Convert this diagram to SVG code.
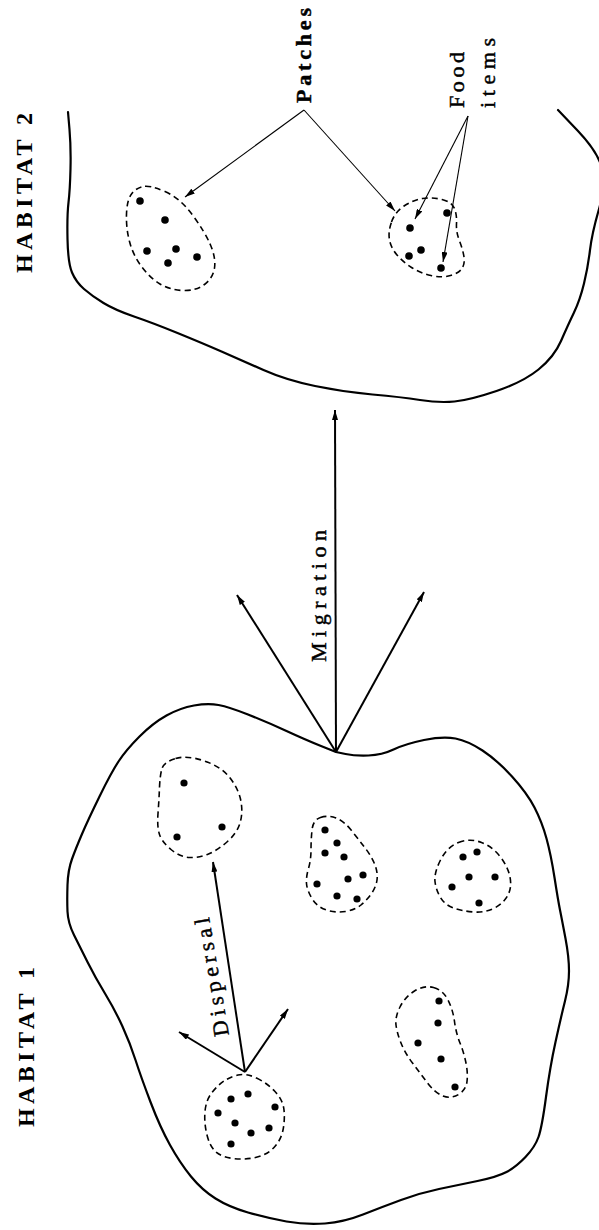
<svg xmlns="http://www.w3.org/2000/svg" width="599" height="1230" viewBox="0 0 599 1230">
<style>
.bound{fill:none;stroke:#000;stroke-width:2.2;stroke-linejoin:round;stroke-linecap:round}
.patch{fill:none;stroke:#000;stroke-width:1.6;stroke-dasharray:6 4}
.dot{fill:#000}
.thin{fill:none;stroke:#000;stroke-width:1.1}
.thick{fill:none;stroke:#000;stroke-width:2}
.lbl{font-family:"Liberation Serif","DejaVu Serif",serif;font-size:22px;fill:#000;stroke:#000;stroke-width:0.45}
.hab{font-family:"Liberation Serif","DejaVu Serif",serif;font-size:24px;font-weight:bold;fill:#000}
</style>
<defs>
<marker id="ah" viewBox="0 0 10 6" refX="10" refY="3" markerWidth="10" markerHeight="6" markerUnits="userSpaceOnUse" orient="auto">
<path d="M0,0 L10,3 L0,6 z" fill="#000"/>
</marker>
</defs>
<rect width="599" height="1230" fill="#fff"/>

<g id="habitat2">
<path class="bound" d="M68,112 L69.5,129.5 Q71,147 70.5,168.5 Q70,190 68.5,202.5 Q67,215 67.5,239 Q68,263 72,272.5 Q76,282 84,289 Q92,296 103.5,303 Q115,310 134,316.5 Q153,323 177.5,333 Q202,343 221.5,351.5 Q241,360 263.5,370 Q286,380 315,386 Q344,392 372.5,394.5 Q401,397 420,400 Q439,403 454.5,401.5 Q470,400 496.5,391 Q523,382 538.5,369.5 Q554,357 561,341 Q568,325 574,312.5 Q580,300 584,283.5 Q588,267 590,250 Q592,233 599,209 Q606,185 602,168.5 Q598,152 578,131 L558,110"/>
<text class="hab" transform="translate(32,273) rotate(-90)" textLength="160" lengthAdjust="spacing">HABITAT 2</text>
</g>

<g id="habitat1">
<path class="bound" d="M336,752 L345.5,754 Q355,756 368.5,755.5 Q382,755 393.5,749.5 Q405,744 424,740 Q443,736 455.5,738.5 Q468,741 482.5,750.5 Q497,760 512,776.5 Q527,793 534.5,807.5 Q542,822 546.5,838.5 Q551,855 554.5,877.5 Q558,900 560,910 Q562,920 565.5,938.5 Q569,957 569,971 Q569,985 565,1001 Q561,1017 555.5,1042 Q550,1067 546,1097 Q542,1127 538.5,1137 Q535,1147 525.5,1157 Q516,1167 506.5,1172 Q497,1177 477.5,1181 Q458,1185 439,1189 Q420,1193 401,1200 Q382,1207 363,1214.5 Q344,1222 325,1223.5 Q306,1225 286.5,1221.5 Q267,1218 248,1212.5 Q229,1207 215.5,1198.5 Q202,1190 191,1176.5 Q180,1163 170,1145 Q160,1127 150.5,1102 Q141,1077 135.5,1060 Q130,1043 122.5,1026.5 Q115,1010 105,993.5 Q95,977 87.5,962 Q80,947 74,935 Q68,923 67.5,911.5 Q67,900 67.5,885 Q68,870 72,859 Q76,848 82,834 Q88,820 99.5,796.5 Q111,773 118.5,761.5 Q126,750 139.5,736.5 Q153,723 166.5,715.5 Q180,708 194,705.5 Q208,703 218.5,705 Q229,707 248,714.5 Q267,722 286.5,731 Q306,740 321,746 Z"/>
<text class="hab" transform="translate(34,1127) rotate(-90)" textLength="160" lengthAdjust="spacing">HABITAT 1</text>
</g>

<g id="h2-patch-left">
<path class="patch" d="M165,191.5 Q180,198 192.5,215 Q205,232 210.5,245 Q216,258 214.5,268 Q213,278 204.5,284.5 Q196,291 183,290.5 Q170,290 160,284 Q150,278 141.5,266.5 Q133,255 129.5,241.5 Q126,228 126.5,214 Q127,200 131.5,194 Q136,188 143,186.5 Q150,185 165,191.5 Z"/>
<circle class="dot" cx="140" cy="201" r="3.8"/>
<circle class="dot" cx="165" cy="220" r="3.8"/>
<circle class="dot" cx="147" cy="251" r="3.8"/>
<circle class="dot" cx="176" cy="249" r="3.8"/>
<circle class="dot" cx="197" cy="257" r="3.8"/>
<circle class="dot" cx="168" cy="263" r="3.8"/>
</g>

<g id="h2-patch-right">
<path class="patch" d="M391.5,222 Q395,212 404,206 Q413,200 422.5,198.5 Q432,197 442,199.5 Q452,202 454.5,208.5 Q457,215 456.5,223.5 Q456,232 459.5,241 Q463,250 464,257 Q465,264 462,268.5 Q459,273 450.5,275.5 Q442,278 431,275.5 Q420,273 411.5,267.5 Q403,262 397,255 Q391,248 389.5,240 Q388,232 391.5,222 Z"/>
<circle class="dot" cx="410" cy="228" r="3.8"/>
<circle class="dot" cx="447" cy="213" r="3.8"/>
<circle class="dot" cx="409" cy="256" r="3.8"/>
<circle class="dot" cx="421" cy="250" r="3.8"/>
<circle class="dot" cx="441" cy="268" r="3.8"/>
</g>

<g id="h1-patch-upper-left">
<path class="patch" d="M175.5,758.5 Q187,755 204.5,761 Q222,767 230.5,778.5 Q239,790 241,801.5 Q243,813 240,823 Q237,833 227.5,841.5 Q218,850 208.5,854 Q199,858 189.5,857.5 Q180,857 171,849.5 Q162,842 159.5,834.5 Q157,827 158,813.5 Q159,800 159.5,787.5 Q160,775 162,768.5 Q164,762 175.5,758.5 Z"/>
<circle class="dot" cx="184" cy="783" r="3.6"/>
<circle class="dot" cx="177" cy="837" r="3.6"/>
<circle class="dot" cx="222" cy="827" r="3.6"/>
</g>

<g id="h1-patch-middle">
<path class="patch" d="M320.5,817.5 Q328,815 336,818 Q344,821 351.5,830.5 Q359,840 365.5,848.5 Q372,857 375,865 Q378,873 377,880 Q376,887 371.5,893.5 Q367,900 361,905 Q355,910 345.5,911.5 Q336,913 326.5,910 Q317,907 312,898.5 Q307,890 306.5,883.5 Q306,877 308.5,868.5 Q311,860 311,850 Q311,840 312,830 Q313,820 320.5,817.5 Z"/>
<circle class="dot" cx="325" cy="830" r="3.6"/>
<circle class="dot" cx="337" cy="843" r="3.6"/>
<circle class="dot" cx="325" cy="853" r="3.6"/>
<circle class="dot" cx="344" cy="857" r="3.6"/>
<circle class="dot" cx="363" cy="875" r="3.6"/>
<circle class="dot" cx="348" cy="879" r="3.6"/>
<circle class="dot" cx="317" cy="884" r="3.6"/>
<circle class="dot" cx="337" cy="896" r="3.6"/>
<circle class="dot" cx="357" cy="899" r="3.6"/>
</g>

<g id="h1-patch-right">
<path class="patch" d="M458.5,842.5 Q470,838 481.5,842.5 Q493,847 500.5,857 Q508,867 510,877 Q512,887 508,895 Q504,903 494.5,908 Q485,913 473.5,912 Q462,911 453.5,908 Q445,905 440.5,897.5 Q436,890 435,881.5 Q434,873 440.5,860 Q447,847 458.5,842.5 Z"/>
<circle class="dot" cx="463" cy="857" r="3.6"/>
<circle class="dot" cx="477" cy="852" r="3.6"/>
<circle class="dot" cx="469" cy="877" r="3.6"/>
<circle class="dot" cx="495" cy="877" r="3.6"/>
<circle class="dot" cx="452" cy="887" r="3.6"/>
<circle class="dot" cx="479" cy="903" r="3.6"/>
</g>

<g id="h1-patch-lower-left">
<path class="patch" d="M256.5,1078 Q267,1083 275,1091.5 Q283,1100 284,1110 Q285,1120 283,1130 Q281,1140 274,1147.5 Q267,1155 255.5,1157.5 Q244,1160 233,1158.5 Q222,1157 216,1152 Q210,1147 207,1135 Q204,1123 205,1111.5 Q206,1100 212,1092.5 Q218,1085 224,1081 Q230,1077 238,1075 Q246,1073 256.5,1078 Z"/>
<circle class="dot" cx="231" cy="1099" r="3.6"/>
<circle class="dot" cx="248" cy="1094" r="3.6"/>
<circle class="dot" cx="275" cy="1107" r="3.6"/>
<circle class="dot" cx="218" cy="1113" r="3.6"/>
<circle class="dot" cx="235" cy="1123" r="3.6"/>
<circle class="dot" cx="269" cy="1128" r="3.6"/>
<circle class="dot" cx="251" cy="1133" r="3.6"/>
<circle class="dot" cx="231" cy="1144" r="3.6"/>
</g>

<g id="h1-patch-lower-right">
<path class="patch" d="M433.5,987.5 Q443,990 448,1000 Q453,1010 454.5,1021.5 Q456,1033 460,1043 Q464,1053 466,1063 Q468,1073 467,1081.5 Q466,1090 458.5,1094.5 Q451,1099 443,1096 Q435,1093 427.5,1083 Q420,1073 412.5,1063 Q405,1053 401,1043 Q397,1033 396,1025 Q395,1017 400,1007 Q405,997 414.5,991 Q424,985 433.5,987.5 Z"/>
<circle class="dot" cx="439" cy="1001" r="3.6"/>
<circle class="dot" cx="438" cy="1023" r="3.6"/>
<circle class="dot" cx="418" cy="1043" r="3.6"/>
<circle class="dot" cx="441" cy="1059" r="3.6"/>
<circle class="dot" cx="455" cy="1087" r="3.6"/>
</g>

<g id="labels">
<text class="lbl" font-weight="bold" transform="translate(311,103) rotate(-90)" textLength="95" lengthAdjust="spacing">Patches</text>
<text class="lbl" transform="translate(464,108) rotate(-90)" textLength="56" lengthAdjust="spacing">Food</text>
<text class="lbl" transform="translate(495,108) rotate(-90)" textLength="70" lengthAdjust="spacing">items</text>
<text class="lbl" transform="translate(326,662) rotate(-90)" textLength="132" lengthAdjust="spacing">Migration</text>
<text class="lbl" transform="translate(229,1035) rotate(-99.6)" textLength="120" lengthAdjust="spacing">Dispersal</text>
</g>

<g id="connectors">
<line class="thin" x1="304" y1="110" x2="185" y2="197" marker-end="url(#ah)"/>
<line class="thin" x1="304" y1="110" x2="395" y2="211" marker-end="url(#ah)"/>
<line class="thin" x1="468" y1="116" x2="415" y2="219" marker-end="url(#ah)"/>
<line class="thin" x1="468" y1="116" x2="443" y2="262" marker-end="url(#ah)"/>
<line class="thick" x1="336" y1="752" x2="335" y2="410" marker-end="url(#ah)"/>
<line class="thick" x1="336" y1="752" x2="237" y2="595" marker-end="url(#ah)"/>
<line class="thick" x1="336" y1="752" x2="424" y2="592" marker-end="url(#ah)"/>
<line class="thick" x1="245" y1="1072" x2="213" y2="862" marker-end="url(#ah)"/>
<line class="thick" x1="245" y1="1072" x2="179" y2="1032" marker-end="url(#ah)"/>
<line class="thick" x1="245" y1="1072" x2="288" y2="1009" marker-end="url(#ah)"/>
</g>
</svg>
